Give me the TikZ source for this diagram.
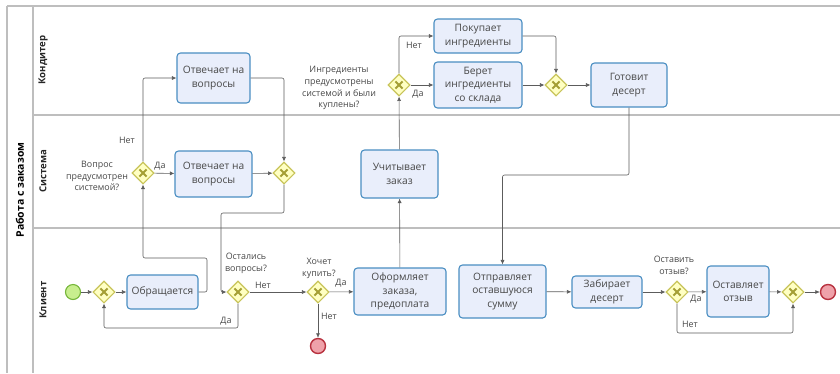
\documentclass[tikz,border=0pt]{standalone}
\usepackage{fontspec}
\setmainfont{Open Sans}
\usetikzlibrary{arrows.meta, shapes.geometric, positioning}

\definecolor{taskfill}{HTML}{E9EEFB}
\definecolor{taskline}{HTML}{4A8EC2}
\definecolor{gwfill}{HTML}{FFFFC2}
\definecolor{gwline}{HTML}{C8C45A}
\definecolor{gwmark}{HTML}{A59F35}
\definecolor{startfill}{HTML}{C8EE8E}
\definecolor{startline}{HTML}{76B63A}
\definecolor{endfill}{HTML}{EFA2AA}
\definecolor{endline}{HTML}{B8323F}
\definecolor{laneline}{HTML}{BEBEBE}
\definecolor{flowline}{HTML}{5C5C5C}
\definecolor{txt}{HTML}{474747}

\tikzset{
  task/.style={draw=taskline, fill=taskfill, rounded corners=3.5pt, line width=1.1pt,
    align=center, text=txt, inner sep=2pt, font=\fontsize{10.2}{13.5}\selectfont},
  gateway/.style={diamond, draw=gwline, fill=gwfill, line width=1.1pt, inner sep=0pt,
    minimum size=22pt,
    path picture={
      \draw[gwmark, line width=1.9pt]
        ([shift={(-3.6pt,-3.6pt)}]path picture bounding box.center) -- ++(7.2pt,7.2pt)
        ([shift={(-3.6pt,3.6pt)}]path picture bounding box.center) -- ++(7.2pt,-7.2pt);}},
  startev/.style={circle, draw=startline, fill=startfill, line width=1.1pt, minimum size=15pt, inner sep=0pt},
  endev/.style={circle, draw=endline, fill=endfill, line width=1.4pt, minimum size=15pt, inner sep=0pt},
  lbl/.style={text=txt, align=center, font=\fontsize{8.9}{11.8}\selectfont, inner sep=0pt},
  lanename/.style={rotate=90, font=\bfseries\fontsize{9.6}{11}\selectfont, text=black!85},
  flow/.style={draw=flowline, line width=0.6pt, rounded corners=2pt, -{Latex[length=4.5pt, width=4pt]}},
}

\begin{document}
\begin{tikzpicture}[x=1pt, y=-1pt]
  \useasboundingbox (0,0) rectangle (840,373);

  % pool and lanes
  \draw[laneline, line width=1.8pt] (7,6) -- (840,6);
  \draw[laneline, line width=1.2pt] (7,6) -- (7,373);
  \draw[laneline, line width=1.2pt] (33,6) -- (33,373);
  \draw[laneline, line width=1.2pt] (33,115) -- (840,115);
  \draw[laneline, line width=1.2pt] (33,228) -- (840,228);
  \node[rotate=90, font=\bfseries\fontsize{10.5}{12}\selectfont] (pool) at (20,190) {Работа с заказом};
  \node[lanename] (lane1) at (43,60) {Кондитер};
  \node[lanename] (lane2) at (43,171) {Система};
  \node[lanename] (lane3) at (43,300) {Клиент};

  % events and gateways
  \node[startev] (start) at (73,292) {};
  \node[gateway] (g1) at (104,292) {};
  \node[gateway] (g2) at (143,173) {};
  \node[gateway] (g3) at (284,173) {};
  \node[gateway] (g4) at (238,292) {};
  \node[gateway] (g5) at (318,292) {};
  \node[gateway] (g6) at (399,85) {};
  \node[gateway] (g7) at (556,85) {};
  \node[gateway] (g8) at (677,292) {};
  \node[gateway] (g9) at (793,292) {};
  \node[endev] (end1) at (318,346) {};
  \node[endev] (end2) at (828,292) {};

  % tasks
  \node[task, minimum width=71pt, minimum height=34pt] (obr) at (162.5,292) {Обращается};
  \node[task, minimum width=73pt, minimum height=50pt] (kotv) at (213.5,78) {Отвечает на\\вопросы};
  \node[task, minimum width=77pt, minimum height=46pt] (sotv) at (213.5,174) {Отвечает на\\вопросы};
  \node[task, minimum width=77pt, minimum height=48pt] (uchit) at (399.5,174) {Учитывает\\заказ};
  \node[task, minimum width=92pt, minimum height=47pt] (oform) at (400,291.5) {Оформляет\\заказа,\\предоплата};
  \node[task, minimum width=88pt, minimum height=34pt] (pokup) at (478,36) {Покупает\\ингредиенты};
  \node[task, minimum width=88pt, minimum height=46pt] (beret) at (478,85) {Берет\\ингредиенты\\со склада};
  \node[task, minimum width=76pt, minimum height=44pt] (gotov) at (629,85) {Готовит\\десерт};
  \node[task, minimum width=87pt, minimum height=53pt] (otpr) at (502.5,291.5) {Отправляет\\оставшуюся\\сумму};
  \node[task, minimum width=70pt, minimum height=32pt] (zabir) at (607,292) {Забирает\\десерт};
  \node[task, minimum width=62pt, minimum height=51pt] (ostav) at (738,291.5) {Оставляет\\отзыв};

  % labels
  \node[lbl] (q1) at (97,176) {Вопрос\\предусмотрен\\системой?};
  \node[lbl] (q2) at (246,263) {Остались\\вопросы?};
  \node[lbl] (q3) at (319,268) {Хочет\\купить?};
  \node[lbl] (q4) at (339,88) {Ингредиенты\\предусмотрены\\системой и были\\куплены?};
  \node[lbl] (q5) at (674,265) {Оставить\\отзыв?};
  \node[lbl] (n2) at (127,140) {Нет};
  \node[lbl] (y2) at (160,166) {Да};
  \node[lbl] (n4) at (263,285) {Нет};
  \node[lbl] (y4) at (226,321) {Да};
  \node[lbl] (y5) at (341,283) {Да};
  \node[lbl] (n5) at (329,316) {Нет};
  \node[lbl] (n6) at (414,45) {Нет};
  \node[lbl] (y6) at (418,94) {Да};
  \node[lbl] (y8) at (696,299) {Да};
  \node[lbl] (n8) at (690,324) {Нет};

  % bend points
  \coordinate (c1) at (207,258);
  \coordinate (c2) at (221,213);
  \coordinate (c3) at (170,328);
  \coordinate (c4) at (560,175);
  \coordinate (c5) at (740,333);

  % flows
  \draw[flow] (start) -- (g1);
  \draw[flow] (g1) -- (obr);
  \draw[flow] (obr.east) -| (c1) -| (g2.south);
  \draw[flow] (g2.north) |- (kotv.west);
  \draw[flow] (g2) -- (sotv);
  \draw[flow] (sotv) -- (g3);
  \draw[flow] (kotv.east) -| (g3.north);
  \draw[flow] (g3.south) |- (c2) |- (g4.west);
  \draw[flow] (g4.south) |- (c3) -| (g1.south);
  \draw[flow] (g4) -- (g5);
  \draw[flow] (g5) -- (oform);
  \draw[flow] (g5) -- (end1);
  \draw[flow] (oform) -- (uchit);
  \draw[flow] (uchit) -- (g6);
  \draw[flow] (g6.north) |- (pokup.west);
  \draw[flow] (g6) -- (beret);
  \draw[flow] (pokup.east) -| (g7.north);
  \draw[flow] (beret) -- (g7);
  \draw[flow] (g7) -- (gotov);
  \draw[flow] (gotov.south) |- (c4) -| (otpr.north);
  \draw[flow] (otpr) -- (zabir);
  \draw[flow] (zabir) -- (g8);
  \draw[flow] (g8) -- (ostav);
  \draw[flow] (g8.south) |- (c5) -| (g9.south);
  \draw[flow] (ostav) -- (g9);
  \draw[flow] (g9) -- (end2);
\end{tikzpicture}
\end{document}
